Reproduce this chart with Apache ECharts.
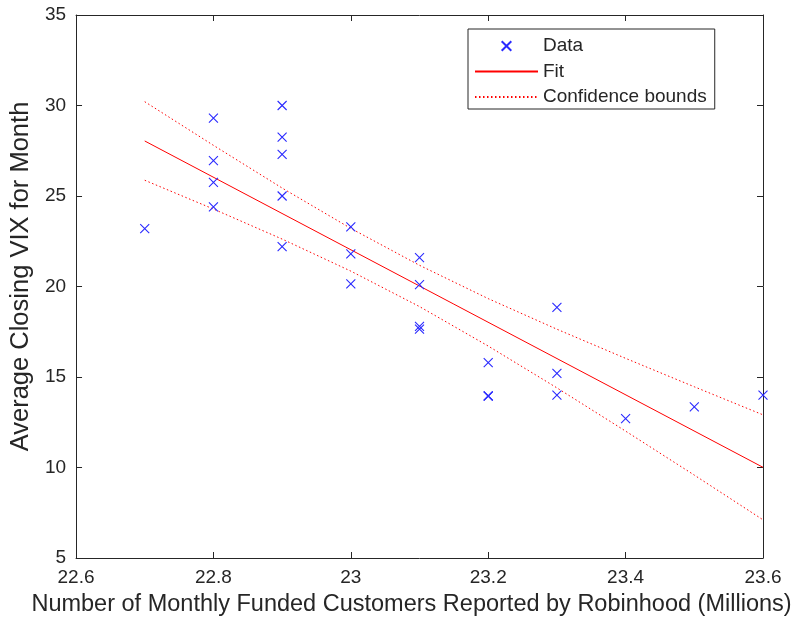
<!DOCTYPE html>
<html>
<head>
<meta charset="utf-8">
<script src="https://cdn.jsdelivr.net/npm/echarts@6/dist/echarts.min.js"></script>
<style>html,body{margin:0;padding:0;background:#fff}#c{width:797px;height:628px}</style>
</head>
<body>
<div id="c"></div>
<script>
// Observed data (customers in millions, average closing VIX)
const dataX = [22.7, 22.8, 22.8, 22.8, 22.8, 22.9, 22.9, 22.9, 22.9, 22.9, 23.0, 23.0, 23.0, 23.1, 23.1, 23.1, 23.1, 23.2, 23.2, 23.2, 23.3, 23.3, 23.3, 23.4, 23.5, 23.6];
const dataY = [23.2, 29.3, 26.95, 25.75, 24.4, 30.0, 28.25, 27.3, 25.0, 22.2, 23.3, 21.8, 20.15, 21.6, 20.1, 17.8, 17.65, 15.8, 13.95, 13.95, 18.85, 15.2, 14.0, 12.7, 13.35, 14.0];
// Fit line end points
const fitX = [22.7, 23.6];
const fitY = [28.04, 10.01];
// Confidence bounds read at each 0.1
const boundX = [22.7, 22.8, 22.9, 23.0, 23.1, 23.2, 23.3, 23.4, 23.5, 23.6];
const upperY = [30.21, 27.80, 25.44, 23.21, 21.17, 19.33, 17.64, 16.03, 14.46, 12.91];
const lowerY = [25.87, 24.28, 22.62, 20.85, 18.89, 16.71, 14.40, 12.01, 9.58, 7.11];
// Axis ticks
const xTicks = {min: 22.6, max: 23.6, interval: 0.2};
const yTicks = {min: 5, max: 35, interval: 5};
const xTitle = 'Number of Monthly Funded Customers Reported by Robinhood (Millions)';
const yTitle = 'Average Closing VIX for Month';

const zip = (a, b) => a.map((v, i) => [v, b[i]]);
const FONT = "'Liberation Sans', Arial, Helvetica, sans-serif";
const TXT = '#262626';
const AX = '#262626';
const RED = '#ff0000';
const CLEAR = 'rgba(0,0,0,0)';

const common = {
  axisLine: {show: true, onZero: false, lineStyle: {color: AX, width: 1}},
  axisTick: {show: true, inside: true, length: 6, lineStyle: {color: AX}},
  splitLine: {show: false}
};
const chart = echarts.init(document.getElementById('c'), null, {renderer: 'canvas'});
chart.setOption({
  backgroundColor: '#ffffff',
  animation: false,
  textStyle: {fontFamily: FONT},
  grid: {left: 75, right: 34, top: 15, bottom: 70, containLabel: false},
  xAxis: [
    Object.assign({type: 'value', position: 'bottom', min: xTicks.min, max: xTicks.max, interval: xTicks.interval,
      name: xTitle, nameLocation: 'middle', nameGap: 35,
      nameTextStyle: {fontSize: 23.5, color: TXT, fontFamily: FONT, padding: [0, 16, 0, 0]},
      axisLabel: {fontSize: 19, color: TXT, margin: 10, fontFamily: FONT,
        formatter: v => String(Math.round(v * 10) / 10)}}, common),
    Object.assign({type: 'value', position: 'top', min: xTicks.min, max: xTicks.max, interval: xTicks.interval,
      axisLabel: {show: false}}, common)
  ],
  yAxis: [
    Object.assign({type: 'value', position: 'left', min: yTicks.min, max: yTicks.max, interval: yTicks.interval,
      name: yTitle, nameLocation: 'middle', nameGap: 41,
      nameTextStyle: {fontSize: 25.5, color: TXT, fontFamily: FONT, padding: [0, 0, 0, 20]},
      axisLabel: {fontSize: 19, color: TXT, margin: 10, fontFamily: FONT}}, common),
    Object.assign({type: 'value', position: 'right', min: yTicks.min, max: yTicks.max, interval: yTicks.interval,
      axisLabel: {show: false}}, common)
  ],
  legend: {
    orient: 'vertical', left: 468, top: 29,
    padding: [7, 8, 2, 6], itemGap: 5.5, itemWidth: 63, itemHeight: 12,
    backgroundColor: '#ffffff', borderColor: AX, borderWidth: 1,
    textStyle: {fontSize: 19, color: TXT, fontFamily: FONT, lineHeight: 20},
    data: ['Data', 'Fit', 'Confidence bounds']
  },
  series: [
    {name: 'Confidence bounds', type: 'line', data: zip(boundX, upperY), symbol: 'circle', showSymbol: false,
      lineStyle: {color: RED, width: 1, type: [1.5, 2.5]}, itemStyle: {color: CLEAR, borderWidth: 0}, z: 2},
    {name: 'Confidence bounds', type: 'line', data: zip(boundX, lowerY), symbol: 'circle', showSymbol: false,
      lineStyle: {color: RED, width: 1, type: [1.5, 2.5]}, itemStyle: {color: CLEAR, borderWidth: 0}, z: 2},
    {name: 'Fit', type: 'line', data: zip(fitX, fitY), symbol: 'circle', showSymbol: false,
      lineStyle: {color: RED, width: 1}, itemStyle: {color: CLEAR, borderWidth: 0}, z: 3},
    {name: 'Data', type: 'line', data: zip(dataX, dataY), color: '#2a2aff',
      symbol: 'path://M0,0L10,10M0,10L10,0', symbolSize: 9, showSymbol: true, showAllSymbol: true,
      lineStyle: {width: 0}, itemStyle: {color: '#2a2aff', borderColor: '#2a2aff', borderWidth: 1.1}, z: 4}
  ]
});
</script>
</body>
</html>
